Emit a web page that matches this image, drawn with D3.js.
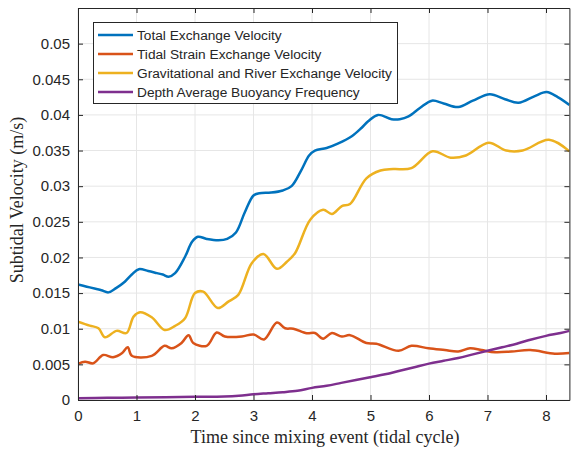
<!DOCTYPE html>
<html>
<head>
<meta charset="utf-8">
<script src="https://cdn.jsdelivr.net/npm/d3@7"></script>
<style>
  html, body { margin: 0; padding: 0; background: #fff; }
  svg { display: block; }
</style>
</head>
<body>
<svg id="chart" width="572" height="450"></svg>
<script>
// Time since mixing event (tidal cycles) and subtidal velocities (m/s)
const totalT = [0, 0.15, 0.3, 0.4, 0.52, 0.65, 0.8, 0.92, 1.04, 1.2, 1.35, 1.45, 1.55, 1.66, 1.83, 1.95, 2.05, 2.2, 2.4, 2.55, 2.7, 2.85, 3.0, 3.1, 3.3, 3.5, 3.65, 3.82, 3.95, 4.05, 4.25, 4.45, 4.68, 4.85, 4.96, 5.13, 5.36, 5.5, 5.65, 5.85, 6.05, 6.25, 6.5, 6.75, 7.04, 7.3, 7.53, 7.8, 8.01, 8.2, 8.4];
const totalV = [0.0162, 0.0159, 0.0156, 0.0154, 0.0151, 0.0157, 0.0166, 0.0176, 0.01835, 0.0181, 0.0178, 0.0176, 0.0173, 0.0178, 0.0201, 0.0222, 0.0229, 0.0226, 0.0224, 0.0226, 0.0235, 0.0263, 0.0287, 0.0290, 0.0291, 0.0294, 0.0300, 0.0323, 0.0343, 0.0350, 0.03535, 0.0360, 0.0370, 0.0382, 0.0391, 0.0400, 0.0394, 0.0394, 0.0398, 0.0410, 0.0420, 0.0416, 0.0411, 0.0420, 0.0429, 0.0422, 0.0417, 0.0426, 0.0432, 0.0425, 0.0414];

const strainT = [0, 0.12, 0.26, 0.43, 0.6, 0.75, 0.85, 0.92, 1.26, 1.48, 1.6, 1.77, 1.89, 1.97, 2.2, 2.37, 2.51, 2.8, 3.0, 3.18, 3.4, 3.54, 3.68, 3.91, 4.05, 4.19, 4.34, 4.51, 4.65, 4.93, 5.1, 5.48, 5.7, 5.99, 6.27, 6.5, 6.7, 6.9, 7.13, 7.41, 7.73, 8.15, 8.4];
const strainV = [0.00506, 0.00538, 0.00515, 0.00632, 0.0060, 0.00655, 0.0074, 0.0062, 0.0062, 0.0076, 0.00725, 0.0080, 0.0091, 0.0080, 0.0076, 0.00946, 0.0089, 0.0089, 0.0092, 0.0085, 0.01086, 0.01006, 0.0100, 0.00936, 0.0094, 0.0086, 0.0094, 0.0089, 0.0091, 0.0080, 0.0079, 0.0069, 0.0076, 0.00725, 0.0070, 0.0068, 0.00725, 0.0070, 0.0067, 0.0068, 0.0070, 0.0065, 0.0066];

const gravT = [0, 0.2, 0.35, 0.46, 0.66, 0.83, 0.95, 1.06, 1.26, 1.48, 1.66, 1.83, 2.0, 2.14, 2.39, 2.57, 2.74, 2.97, 3.17, 3.4, 3.57, 3.71, 3.97, 4.19, 4.34, 4.51, 4.65, 4.93, 5.17, 5.39, 5.7, 6.06, 6.37, 6.63, 7.02, 7.32, 7.6, 8.05, 8.4];
const gravV = [0.0110, 0.01044, 0.01007, 0.0088, 0.0097, 0.0094, 0.0117, 0.01232, 0.01161, 0.00983, 0.0104, 0.01147, 0.0150, 0.0152, 0.0129, 0.0138, 0.01475, 0.0192, 0.0205, 0.0184, 0.0194, 0.0206, 0.0253, 0.0267, 0.0261, 0.0272, 0.0275, 0.0311, 0.0322, 0.0324, 0.03254, 0.0349, 0.0340, 0.0343, 0.0361, 0.0350, 0.0350, 0.0365, 0.0349];

const buoyT = [0, 0.5, 1, 1.5, 2, 2.5, 2.75, 3, 3.25, 3.5, 3.75, 4.0, 4.25, 4.5, 4.75, 5.0, 5.25, 5.5, 5.75, 6.0, 6.25, 6.5, 6.75, 7.0, 7.25, 7.5, 7.75, 8.0, 8.25, 8.4];
const buoyV = [0.00025, 0.0003, 0.00035, 0.0004, 0.00045, 0.0005, 0.0006, 0.0008, 0.00095, 0.0011, 0.0013, 0.0017, 0.0020, 0.0024, 0.0028, 0.0032, 0.0036, 0.0041, 0.0046, 0.0051, 0.0055, 0.0059, 0.0064, 0.0069, 0.0074, 0.0079, 0.0085, 0.0090, 0.0094, 0.0097];

const seriesNames = ["Total Exchange Velocity", "Tidal Strain Exchange Velocity", "Gravitational and River Exchange Velocity", "Depth Average Buoyancy Frequency"];
const seriesColors = ["#0072BD", "#D95319", "#EDB120", "#7E2F8E"];

const xTicks = [0, 1, 2, 3, 4, 5, 6, 7, 8];
const yTicks = [0, 0.005, 0.01, 0.015, 0.02, 0.025, 0.03, 0.035, 0.04, 0.045, 0.05];
const yTickLabels = ["0", "0.005", "0.01", "0.015", "0.02", "0.025", "0.03", "0.035", "0.04", "0.045", "0.05"];

const xLabel = "Time since mixing event (tidal cycle)";
const yLabel = "Subtidal Velocity (m/s)";

const series = [
  { name: seriesNames[0], color: seriesColors[0], t: totalT, v: totalV },
  { name: seriesNames[1], color: seriesColors[1], t: strainT, v: strainV },
  { name: seriesNames[2], color: seriesColors[2], t: gravT, v: gravV },
  { name: seriesNames[3], color: seriesColors[3], t: buoyT, v: buoyV }
];

const svg = d3.select("#chart");
const pL = 78, pR = 569.4, pT = 8, pB = 400;
const axisColor = "#262626";
const sans = "'Liberation Sans', Arial, Helvetica, sans-serif";
const serif = "'Liberation Serif', 'Times New Roman', serif";

const x = d3.scaleLinear().domain([0, 8.4]).range([pL, pR]);
const y = d3.scaleLinear().domain([0, 0.055]).range([pB, pT]);

// grid
const grid = svg.append("g");
grid.selectAll(".gx").data(xTicks).join("line")
  .attr("x1", d => x(d)).attr("x2", d => x(d))
  .attr("y1", pT).attr("y2", pB)
  .attr("stroke", "#e6e6e6").attr("stroke-width", 1);
grid.selectAll(".gy").data(yTicks).join("line")
  .attr("x1", pL).attr("x2", pR)
  .attr("y1", d => y(d)).attr("y2", d => y(d))
  .attr("stroke", "#e6e6e6").attr("stroke-width", 1);

// lines
svg.append("clipPath").attr("id", "plotclip")
  .append("rect").attr("x", pL).attr("y", pT).attr("width", pR - pL).attr("height", pB - pT);

const line = d3.line()
  .x(d => x(d[0])).y(d => y(d[1]))
  .curve(d3.curveCatmullRom.alpha(0.5));

const lines = svg.append("g").attr("clip-path", "url(#plotclip)");
series.forEach(s => {
  const pts = s.t.map((t, i) => [t, s.v[i]]);
  lines.append("path").datum(pts)
    .attr("d", line)
    .attr("fill", "none")
    .attr("stroke", s.color)
    .attr("stroke-width", 2.5)
    .attr("stroke-linejoin", "round");
});

// axes (ticks pointing inward, box on)
const tickLen = 5;
const axB = svg.append("g").attr("transform", `translate(0,${pB})`)
  .call(d3.axisBottom(x).tickValues(xTicks).tickSizeInner(-tickLen).tickSizeOuter(0).tickPadding(10).tickFormat(d3.format("d")));
const axT = svg.append("g").attr("transform", `translate(0,${pT})`)
  .call(d3.axisTop(x).tickValues(xTicks).tickSizeInner(-tickLen).tickSizeOuter(0).tickFormat(""));
const axL = svg.append("g").attr("transform", `translate(${pL},0)`)
  .call(d3.axisLeft(y).tickValues(yTicks).tickSizeInner(-tickLen).tickSizeOuter(0).tickPadding(8)
    .tickFormat((d, i) => yTickLabels[i]));
const axR = svg.append("g").attr("transform", `translate(${pR},0)`)
  .call(d3.axisRight(y).tickValues(yTicks).tickSizeInner(-tickLen).tickSizeOuter(0).tickFormat(""));

[axB, axT, axL, axR].forEach(g => {
  g.select(".domain").attr("stroke", axisColor).attr("stroke-width", 1);
  g.selectAll(".tick line").attr("stroke", axisColor).attr("stroke-width", 1);
  g.selectAll(".tick text").attr("fill", axisColor).attr("font-family", sans).attr("font-size", 15);
});

// axis titles
svg.append("text")
  .attr("x", 325).attr("y", 443)
  .attr("text-anchor", "middle")
  .attr("font-family", serif).attr("font-size", 18)
  .attr("fill", axisColor)
  .text(xLabel);
svg.append("text")
  .attr("transform", "translate(23,200) rotate(-90)")
  .attr("text-anchor", "middle")
  .attr("font-family", serif).attr("font-size", 18)
  .attr("fill", axisColor)
  .text(yLabel);

// legend
const lg = svg.append("g");
lg.append("rect")
  .attr("x", 93.5).attr("y", 22.5).attr("width", 304).attr("height", 81)
  .attr("fill", "#fff").attr("stroke", axisColor).attr("stroke-width", 1);
series.forEach((s, i) => {
  const yy = 35 + i * 19;
  lg.append("line")
    .attr("x1", 98).attr("x2", 133).attr("y1", yy).attr("y2", yy)
    .attr("stroke", s.color).attr("stroke-width", 2.5);
  lg.append("text")
    .attr("x", 137).attr("y", yy).attr("dy", "0.35em")
    .attr("font-family", sans).attr("font-size", 13.7)
    .attr("fill", axisColor)
    .text(s.name);
});
</script>
</body>
</html>
